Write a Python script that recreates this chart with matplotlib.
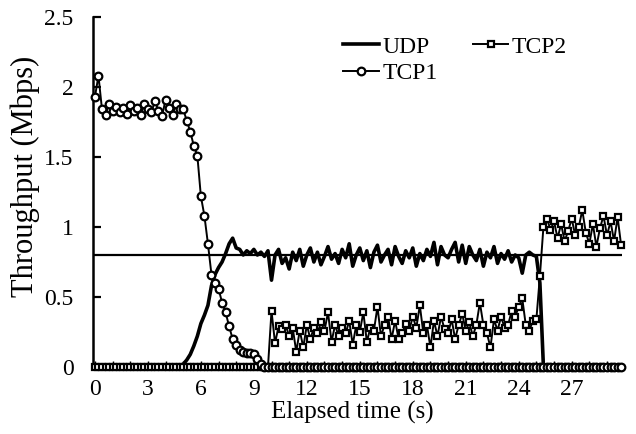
import numpy as np
import matplotlib
matplotlib.use("Agg")
import matplotlib.pyplot as plt

plt.rcParams["font.family"] = ["Liberation Serif", "DejaVu Serif"]

# one sample every 0.2 s, 0 .. 29.8 s
step = 0.2

udp = [
    0, 0, 0, 0, 0, 0, 0, 0, 0, 0,
    0, 0, 0, 0, 0, 0, 0, 0, 0, 0,
    0, 0, 0, 0, 0.01, 0.02, 0.05, 0.09, 0.15, 0.22,
    0.31, 0.37, 0.44, 0.58, 0.66, 0.71, 0.75, 0.81, 0.88, 0.92,
    0.85, 0.84, 0.80, 0.83, 0.81, 0.84, 0.80, 0.82, 0.79, 0.83,
    0.62, 0.80, 0.84, 0.74, 0.78, 0.70, 0.82, 0.76, 0.84, 0.72,
    0.80, 0.85, 0.75, 0.82, 0.73, 0.79, 0.86, 0.77, 0.81, 0.74,
    0.84, 0.78, 0.88, 0.72, 0.80, 0.85, 0.76, 0.83, 0.71, 0.82,
    0.87, 0.75, 0.80, 0.84, 0.73, 0.86, 0.79, 0.74, 0.83, 0.78,
    0.85, 0.72, 0.81, 0.76, 0.84, 0.79, 0.89, 0.73, 0.86, 0.80,
    0.78, 0.84, 0.89, 0.75, 0.87, 0.74, 0.86, 0.80, 0.76, 0.84,
    0.72, 0.82, 0.78, 0.86, 0.74, 0.81, 0.77, 0.83, 0.75, 0.80,
    0.78, 0.67, 0.80, 0.82, 0.80, 0.79, 0.60, 0, 0, 0,
    0, 0, 0, 0, 0, 0, 0, 0, 0, 0,
    0, 0, 0, 0, 0, 0, 0, 0, 0, 0,
]

tcp1 = [
    1.93, 2.08, 1.84, 1.80, 1.88, 1.83, 1.86, 1.82, 1.85, 1.81,
    1.87, 1.83, 1.85, 1.80, 1.88, 1.84, 1.82, 1.90, 1.83, 1.79,
    1.91, 1.85, 1.80, 1.88, 1.84, 1.84, 1.76, 1.68, 1.58, 1.51,
    1.22, 1.08, 0.88, 0.66, 0.60, 0.56, 0.46, 0.39, 0.29, 0.20,
    0.16, 0.12, 0.11, 0.10, 0.10, 0.09, 0.06, 0.02, 0, 0,
    0, 0, 0, 0, 0, 0, 0, 0, 0, 0,
    0, 0, 0, 0, 0, 0, 0, 0, 0, 0,
    0, 0, 0, 0, 0, 0, 0, 0, 0, 0,
    0, 0, 0, 0, 0, 0, 0, 0, 0, 0,
    0, 0, 0, 0, 0, 0, 0, 0, 0, 0,
    0, 0, 0, 0, 0, 0, 0, 0, 0, 0,
    0, 0, 0, 0, 0, 0, 0, 0, 0, 0,
    0, 0, 0, 0, 0, 0, 0, 0, 0, 0,
    0, 0, 0, 0, 0, 0, 0, 0, 0, 0,
    0, 0, 0, 0, 0, 0, 0, 0, 0, 0,
]

tcp2 = [
    0, 0, 0, 0, 0, 0, 0, 0, 0, 0,
    0, 0, 0, 0, 0, 0, 0, 0, 0, 0,
    0, 0, 0, 0, 0, 0, 0, 0, 0, 0,
    0, 0, 0, 0, 0, 0, 0, 0, 0, 0,
    0, 0, 0, 0, 0, 0, 0, 0, 0, 0,
    0.40, 0.17, 0.29, 0.27, 0.30, 0.22, 0.28, 0.11, 0.26, 0.14,
    0.30, 0.20, 0.28, 0.24, 0.32, 0.26, 0.39, 0.18, 0.30, 0.22,
    0.28, 0.24, 0.33, 0.16, 0.30, 0.25, 0.39, 0.18, 0.28, 0.26,
    0.43, 0.22, 0.30, 0.36, 0.20, 0.33, 0.20, 0.24, 0.31, 0.26,
    0.36, 0.28, 0.44, 0.24, 0.30, 0.14, 0.33, 0.22, 0.36, 0.27,
    0.24, 0.34, 0.20, 0.30, 0.38, 0.26, 0.32, 0.22, 0.30, 0.46,
    0.30, 0.24, 0.14, 0.34, 0.26, 0.36, 0.28, 0.30, 0.40, 0.36,
    0.43, 0.49, 0.30, 0.26, 0.33, 0.34, 0.65, 1.00, 1.06, 0.98,
    1.04, 0.92, 1.02, 0.90, 0.97, 1.06, 0.94, 1.00, 1.12, 0.96,
    0.88, 1.02, 0.86, 0.99, 1.08, 0.94, 1.04, 0.90, 1.07, 0.87,
]

ref_level = 0.8
xtick_labels = [0, 3, 6, 9, 12, 15, 18, 21, 24, 27]

t = np.arange(len(udp)) * step

fig = plt.figure(figsize=(6.36, 4.34), dpi=100)
ax = fig.add_axes([0.1462, 0.1544, 0.8318, 0.8065])

ax.axhline(ref_level, color="black", lw=1.6, zorder=1)
ax.plot(t, udp, color="black", lw=2.6, label="UDP", zorder=2, clip_on=False)
ax.plot(t, tcp2, color="black", lw=1.4, marker="s", ms=4.8, mfc="white",
        mec="black", mew=1.6, label="TCP2", zorder=3, clip_on=False)
ax.plot(t, tcp1, color="black", lw=1.4, marker="o", ms=5.5, mfc="white",
        mec="black", mew=1.6, label="TCP1", zorder=4, clip_on=False)

ax.set_xlim(-0.11, 29.85)
ax.set_ylim(0, 2.5)
ax.set_yticks([0, 0.5, 1, 1.5, 2, 2.5])
ax.set_yticklabels(["0", "0.5", "1", "1.5", "2", "2.5"])
ticks = np.arange(0, 30, 1)
ax.set_xticks(ticks)
ax.set_xticklabels([str(v) if v in xtick_labels else "" for v in ticks])

for s in ["top", "right"]:
    ax.spines[s].set_visible(False)
ax.spines["left"].set_linewidth(1.8)
ax.spines["bottom"].set_linewidth(1.8)

ax.tick_params(axis="y", direction="in", length=6, width=1.6, labelsize=17, pad=14)
ax.tick_params(axis="x", direction="in", length=4, width=1.0, labelsize=17, pad=9)

ax.set_xlabel("Elapsed time (s)", fontsize=18)
ax.xaxis.set_label_coords(0.49, -0.098)
ax.set_ylabel("Throughput (Mbps)", fontsize=22)
ax.yaxis.set_label_coords(-0.1, 0.545)

h, l = ax.get_legend_handles_labels()
order = [0, 2, 1]
ax.legend([h[i] for i in order], [l[i] for i in order], ncol=2, loc="upper left",
          bbox_to_anchor=(0.473, 0.945), frameon=False, fontsize=17,
          handlelength=1.5, handletextpad=0.15, columnspacing=1.5,
          labelspacing=0.2, borderaxespad=0, borderpad=0)

fig.savefig("out.png", dpi=100)
